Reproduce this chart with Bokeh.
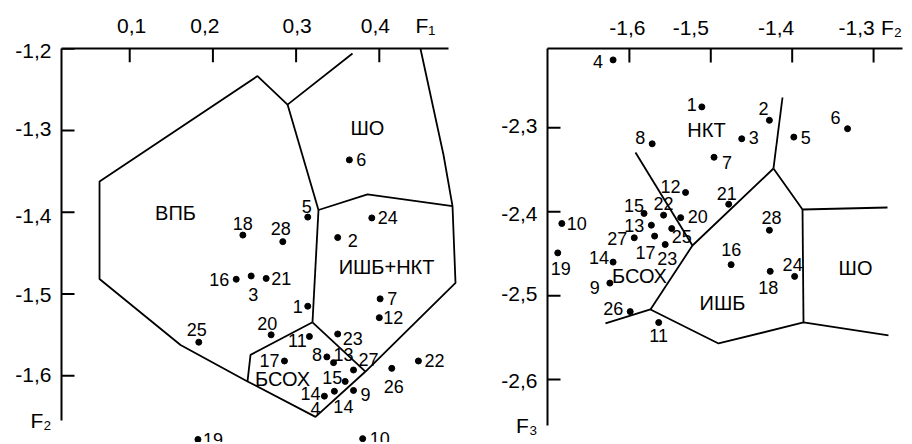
from bokeh.plotting import figure
from bokeh.layouts import row
from bokeh.models import FixedTicker, CustomJSTickFormatter, ColumnDataSource, Range1d
from bokeh.core.properties import value
from bokeh.embed import file_html
from bokeh.resources import INLINE

FONT = "Liberation Sans"

# ---------------- Left diagram: F1 (x) vs F2 (y) ----------------
L_IDS = ["6", "5", "18", "28", "24", "2", "16", "3", "21", "7", "1", "12", "25", "20",
         "11", "23", "17", "8", "13", "27", "15", "26", "22", "14", "14", "9", "19", "10"]
L_F1 = [0.364, 0.314, 0.236, 0.284, 0.391, 0.350, 0.228, 0.246, 0.264, 0.401, 0.314, 0.400, 0.183, 0.270,
        0.316, 0.350, 0.286, 0.337, 0.345, 0.369, 0.359, 0.415, 0.447, 0.334, 0.346, 0.369, 0.182, 0.380]
L_F2 = [-1.336, -1.406, -1.428, -1.436, -1.407, -1.431, -1.482, -1.478, -1.481, -1.506, -1.515, -1.529, -1.559, -1.550,
        -1.552, -1.549, -1.582, -1.577, -1.584, -1.593, -1.607, -1.591, -1.582, -1.625, -1.619, -1.618, -1.678, -1.677]
L_EXTRA_TEXT = "4"          # extra label drawn next to the first "14" point
L_XTICKS = [0.1, 0.2, 0.3, 0.4]
L_YTICKS = [-1.2, -1.3, -1.4, -1.5, -1.6]

L_OUTER_X = [0.4495, 0.4772, 0.4880, 0.4916, 0.3834, 0.3233, 0.2416, 0.1611, 0.0637, 0.0637, 0.2536, 0.2897, 0.3678]
L_OUTER_Y = [-1.200, -1.330, -1.3925, -1.4865, -1.5949, -1.6504, -1.6070, -1.5624, -1.4817, -1.3624, -1.2335, -1.2684, -1.2058]
L_SHO_LEFT_X = [0.2897, 0.3269]
L_SHO_LEFT_Y = [-1.2684, -1.3973]
L_SHO_BOTTOM_X = [0.3269, 0.3858, 0.4880]
L_SHO_BOTTOM_Y = [-1.3973, -1.3781, -1.3925]
L_ISHB_LEFT_X = [0.3269, 0.3197]
L_ISHB_LEFT_Y = [-1.3973, -1.5347]
L_BSOH_A_X = [0.3197, 0.2452, 0.2416]
L_BSOH_A_Y = [-1.5347, -1.5745, -1.6070]
L_BSOH_B_X = [0.3197, 0.3834]
L_BSOH_B_Y = [-1.5347, -1.5949]

L_REGIONS = ["ВПБ", "ИШБ+НКТ", "ШО", "БСОХ"]
L_REG_X = [0.155, 0.4087, 0.3858, 0.2837]
L_REG_Y = [-1.401, -1.4672, -1.2973, -1.6046]

# ---------------- Right diagram: F2 (x) vs F3 (y) ----------------
R_IDS = ["4", "1", "2", "3", "5", "6", "8", "7", "12", "21", "15", "22", "20", "10",
         "13", "25", "27", "17", "23", "19", "14", "9", "28", "16", "18", "24", "26", "11"]
R_F2 = [-1.620, -1.511, -1.428, -1.462, -1.398, -1.332, -1.572, -1.496, -1.531, -1.478, -1.582, -1.558, -1.537, -1.683,
        -1.573, -1.548, -1.594, -1.569, -1.556, -1.688, -1.620, -1.624, -1.428, -1.475, -1.427, -1.397, -1.599, -1.564]
R_F3 = [-2.219, -2.275, -2.291, -2.313, -2.311, -2.301, -2.319, -2.335, -2.377, -2.391, -2.402, -2.404, -2.407, -2.414,
        -2.416, -2.420, -2.431, -2.429, -2.439, -2.449, -2.460, -2.485, -2.422, -2.463, -2.471, -2.477, -2.519, -2.532]
R_XTICKS = [-1.6, -1.5, -1.4, -1.3]
R_YTICKS = [-2.3, -2.4, -2.5, -2.6]

R_L1_X = [-1.4119, -1.4230]
R_L1_Y = [-2.2638, -2.3484]
R_L2_X = [-1.5925, -1.5225]
R_L2_Y = [-2.3293, -2.4402]
R_L3_X = [-1.4230, -1.5225, -1.5741]
R_L3_Y = [-2.3484, -2.4402, -2.5164]
R_L4_X = [-1.4230, -1.3873, -1.2829]
R_L4_Y = [-2.3484, -2.3973, -2.3949]
R_L5_X = [-1.3873, -1.3861]
R_L5_Y = [-2.3973, -2.5319]
R_L6_X = [-1.6294, -1.5741, -1.4905, -1.3861, -1.2817]
R_L6_Y = [-2.5331, -2.5164, -2.5570, -2.5319, -2.5474]

R_REGIONS = ["НКТ", "БСОХ", "ШО", "ИШБ"]
R_REG_X = [-1.5053, -1.5876, -1.3222, -1.4856]
R_REG_Y = [-2.3031, -2.4771, -2.4676, -2.5093]

# ---------------- layout only: label offsets (px), axis-name places ----------------
L_DX = [12, -1, 0, -2, 16, 15, -17, 2, 15, 12, -10, 14, -2, -4, -12, 15, -15, -10, 10, 15, -13, 2, 16, -14, 9, 12, 15, 17]
L_DY = [0, -11, -12, -13, 0, 3, 0, 19, 0, 0, 0, 0, -13, -11, 4, 4, 0, -2, -8, -10, -4, 18, 0, -3, 15, 4, 0, 0]
L_EXTRA_OFF = (-9, 12)
R_DX = [-15, -10, -6, 12, 12, -12, -12, 13, -15, -2, -10, 0, 17, 15, -17, 10, -17, -9, 2, 3, -14, -15, 2, 0, -2, -2, -17, 0]
R_DY = [2, -2, -12, -1, 0, -11, -6, 5, -6, -11, -8, -12, -1, 0, 0, 8, 1, 16, 14, 16, -5, 4, -13, -15, 16, -12, -3, 13]

# tick-label shifts along the axis (px, + = right / down), as drawn in the original figure
L_XLAB_SHIFT = [2, -8, 1, -4]
L_YLAB_SHIFT = [2, -2, 3, 1, -1]
R_XLAB_SHIFT = [-2, -20, -16, -17]
R_YLAB_SHIFT = [-2, 2, -2, 1]

L_XNAME = ("F\u2081", 0.4555)
L_YNAME = ("F\u2082", -1.6552)
R_XNAME = ("F\u2082", -1.2781)
R_YNAME = ("F\u2083", -2.6547)

LINE_W = 1.8
H = 442
FMT = """
for (let i = 0; i < pos.length; i++) {
  if (Math.abs(tick - pos[i]) < 1e-9) { return txt[i]; }
}
return "";
"""


def fmt_num(t):
    return ("%.1f" % t).replace(".", ",")


def make_panel(width, min_left, min_top, xr, yr, xb, yb, xticks, yticks, xname, yname,
               xshift, yshift, x_standoff, y_standoff, xpx, ypx):
    p = figure(width=width, height=H, x_range=Range1d(*xr), y_range=Range1d(*yr),
               x_axis_location="above", y_axis_location="left",
               output_backend="svg", toolbar_location=None,
               min_border_left=min_left, min_border_top=min_top,
               min_border_right=0, min_border_bottom=0)
    p.outline_line_color = None
    p.grid.visible = False
    p.background_fill_color = "white"
    ux = (xr[1] - xr[0]) / xpx     # data units per pixel
    uy = (yr[1] - yr[0]) / ypx
    xpos = [t + s * ux for t, s in zip(xticks, xshift)] + [xname[1]]
    ypos = [t - s * uy for t, s in zip(yticks, yshift)] + [yname[1]]
    xtxt = [fmt_num(t) for t in xticks] + [xname[0]]
    ytxt = [fmt_num(t) for t in yticks] + [yname[0]]
    for ax, pos, txt, b, so in ((p.xaxis[0], xpos, xtxt, xb, x_standoff),
                                (p.yaxis[0], ypos, ytxt, yb, y_standoff)):
        ax.ticker = FixedTicker(ticks=pos, minor_ticks=[])
        ax.formatter = CustomJSTickFormatter(args=dict(pos=pos, txt=txt), code=FMT)
        ax.bounds = b
        ax.major_tick_out = 0
        ax.major_tick_in = 0
        ax.minor_tick_out = 0
        ax.minor_tick_in = 0
        ax.axis_line_width = 2
        ax.axis_line_color = "black"
        ax.major_label_text_font = FONT
        ax.major_label_text_font_size = "21px"
        ax.major_label_text_color = "black"
        ax.major_label_standoff = so
    # inward tick marks at the true tick values (top: 14 px down, left: 13 px right)
    x0, y1 = xr[0], yr[1]
    p.segment(x0=list(xticks), x1=list(xticks), y0=[y1] * len(xticks), y1=[y1 - 14 * uy] * len(xticks),
              line_color="black", line_width=2)
    p.segment(x0=[x0] * len(yticks), x1=[x0 + 13 * ux] * len(yticks), y0=list(yticks), y1=list(yticks),
              line_color="black", line_width=2)
    return p


def add_content(p, lines, ids, xs, ys, dx, dy, regions, rx, ry, extra=None):
    p.multi_line(xs=[l[0] for l in lines], ys=[l[1] for l in lines],
                 line_color="black", line_width=LINE_W)
    p.scatter(xs, ys, size=6, color="black")
    tx, ty, tt, tdx, tdy = list(xs), list(ys), list(ids), list(dx), list(dy)
    if extra is not None:
        idx, text, off = extra
        tx.append(xs[idx]); ty.append(ys[idx]); tt.append(text)
        tdx.append(off[0]); tdy.append(off[1])
    src = ColumnDataSource(dict(x=tx, y=ty, t=tt, dx=tdx, dy=tdy))
    p.text(x="x", y="y", text="t", x_offset="dx", y_offset="dy", source=src,
           text_font=value(FONT), text_font_size="18px", text_color="black",
           text_align="center", text_baseline="middle")
    p.text(x=rx, y=ry, text=regions, text_font=value(FONT), text_font_size="20px",
           text_color="black", text_align="center", text_baseline="middle")


# left panel: frame from x=61 to 458, y=42 to 442
p1 = make_panel(458, 61, 42, (0.018, 0.4952), (-1.6817, -1.19976),
                (0.018, 0.483), (L_YNAME[1], -1.2), L_XTICKS, L_YTICKS, L_XNAME, L_YNAME,
                L_XLAB_SHIFT, L_YLAB_SHIFT, 12, 10, 458 - 61, H - 42)
add_content(p1,
            [(L_OUTER_X, L_OUTER_Y), (L_SHO_LEFT_X, L_SHO_LEFT_Y), (L_SHO_BOTTOM_X, L_SHO_BOTTOM_Y),
             (L_ISHB_LEFT_X, L_ISHB_LEFT_Y), (L_BSOH_A_X, L_BSOH_A_Y), (L_BSOH_B_X, L_BSOH_B_Y)],
            L_IDS, L_F1, L_F2, L_DX, L_DY, L_REGIONS, L_REG_X, L_REG_Y,
            extra=(23, L_EXTRA_TEXT, L_EXTRA_OFF))

# right panel: frame from x=547 to 912, y=48 to 442
p2 = make_panel(454, 89, 48, (-1.7006, -1.2522), (-2.6750, -2.2054),
                (-1.7006, -1.2646), (R_YNAME[1], -2.2054), R_XTICKS, R_YTICKS, R_XNAME, R_YNAME,
                R_XLAB_SHIFT, R_YLAB_SHIFT, 10, 10, 912 - 547, H - 48)
add_content(p2,
            [(R_L1_X, R_L1_Y), (R_L2_X, R_L2_Y), (R_L3_X, R_L3_Y),
             (R_L4_X, R_L4_Y), (R_L5_X, R_L5_Y), (R_L6_X, R_L6_Y)],
            R_IDS, R_F2, R_F3, R_DX, R_DY, R_REGIONS, R_REG_X, R_REG_Y)

layout = row(p1, p2)
open("out.html", "w").write(file_html(layout, INLINE))
